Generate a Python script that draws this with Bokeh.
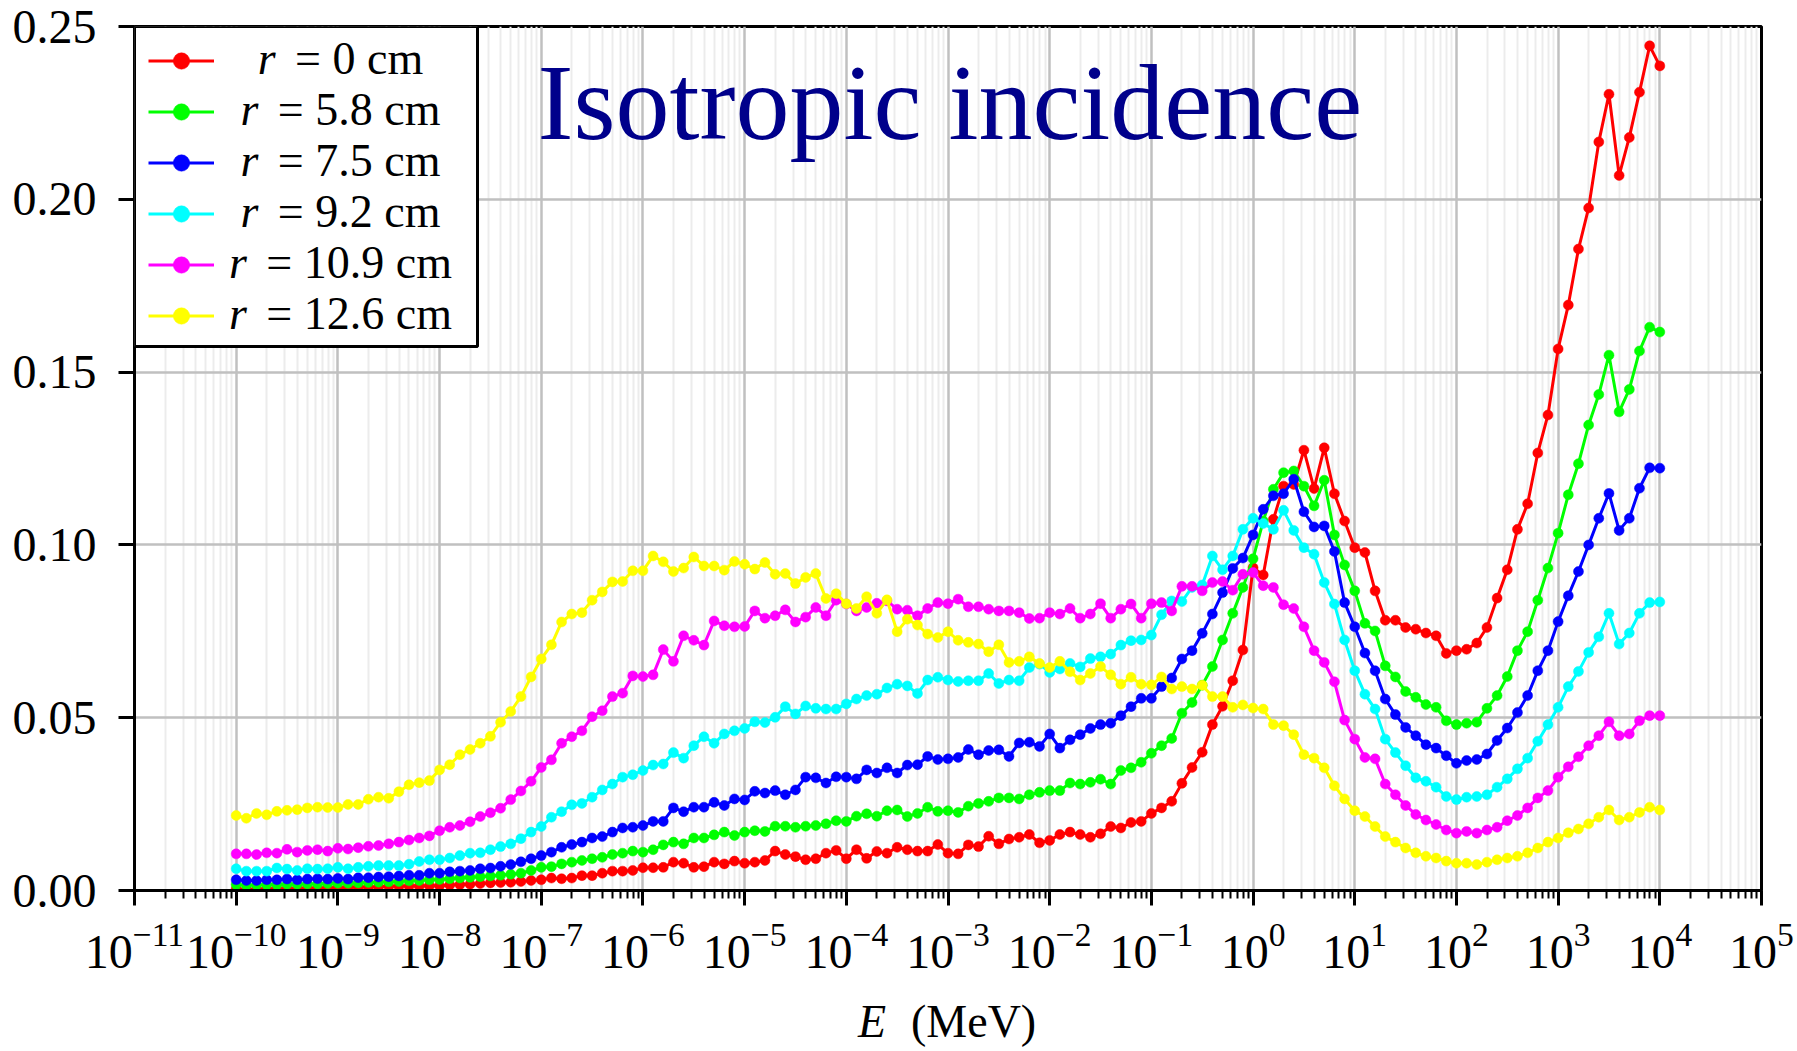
import numpy as np
from bokeh.plotting import figure
from bokeh.layouts import column
from bokeh.models import (ColumnDataSource, FixedTicker, LogTickFormatter, Legend,
                          LegendItem, Label, Range1d, BoxAnnotation)
from bokeh.embed import file_html
from bokeh.resources import INLINE

# ---------------- data ----------------
# energy grid: 10 points per decade from 1e-10 to 1e4 MeV
log_energy = np.round(np.arange(-100, 41) / 10.0, 1)
energy = 10.0 ** log_energy

r_0cm = [
    0.0004, 0.0003, 0.0004, 0.0005, 0.0005, 0.0006, 0.0006, 0.0007, 0.0007, 0.0008,
    0.0008, 0.0009, 0.0010, 0.0010, 0.0011, 0.0012, 0.0012, 0.0013, 0.0013, 0.0014,
    0.0014, 0.0016, 0.0017, 0.0018, 0.0020, 0.0022, 0.0023, 0.0024, 0.0026, 0.0029,
    0.0031, 0.0036, 0.0034, 0.0036, 0.0043, 0.0043, 0.0050, 0.0056, 0.0056, 0.0058,
    0.0066, 0.0066, 0.0067, 0.0082, 0.0079, 0.0067, 0.0069, 0.0082, 0.0077, 0.0085,
    0.0079, 0.0082, 0.0087, 0.0114, 0.0104, 0.0098, 0.0089, 0.0092, 0.0108, 0.0116,
    0.0092, 0.0118, 0.0093, 0.0113, 0.0108, 0.0125, 0.0118, 0.0114, 0.0114, 0.0133,
    0.0108, 0.0106, 0.0132, 0.0127, 0.0157, 0.0135, 0.0149, 0.0154, 0.0162, 0.0138,
    0.0145, 0.0162, 0.0169, 0.0162, 0.0154, 0.0164, 0.0185, 0.0181, 0.0197, 0.0200,
    0.0223, 0.0239, 0.0258, 0.0310, 0.0356, 0.0400, 0.0480, 0.0533, 0.0607, 0.0696,
    0.0934, 0.0913, 0.1074, 0.1170, 0.1175, 0.1274, 0.1163, 0.1281, 0.1148, 0.1069,
    0.0992, 0.0978, 0.0867, 0.0782, 0.0782, 0.0761, 0.0756, 0.0745, 0.0737, 0.0686,
    0.0694, 0.0698, 0.0716, 0.0761, 0.0846, 0.0928, 0.1045, 0.1119, 0.1266, 0.1376,
    0.1567, 0.1694, 0.1856, 0.1975, 0.2166, 0.2304, 0.2069, 0.2179, 0.2310, 0.2444,
    0.2386,
]

r_5_8cm = [
    0.0017, 0.0015, 0.0016, 0.0017, 0.0017, 0.0018, 0.0018, 0.0019, 0.0019, 0.0020,
    0.0021, 0.0021, 0.0022, 0.0023, 0.0024, 0.0025, 0.0026, 0.0028, 0.0029, 0.0031,
    0.0032, 0.0034, 0.0036, 0.0038, 0.0040, 0.0042, 0.0044, 0.0047, 0.0050, 0.0058,
    0.0067, 0.0069, 0.0077, 0.0082, 0.0087, 0.0092, 0.0096, 0.0104, 0.0108, 0.0114,
    0.0111, 0.0118, 0.0132, 0.0140, 0.0135, 0.0152, 0.0152, 0.0161, 0.0169, 0.0159,
    0.0169, 0.0173, 0.0171, 0.0186, 0.0186, 0.0183, 0.0186, 0.0188, 0.0193, 0.0202,
    0.0200, 0.0215, 0.0222, 0.0215, 0.0231, 0.0233, 0.0214, 0.0223, 0.0241, 0.0229,
    0.0231, 0.0226, 0.0244, 0.0252, 0.0258, 0.0268, 0.0268, 0.0265, 0.0277, 0.0284,
    0.0289, 0.0289, 0.0311, 0.0308, 0.0313, 0.0322, 0.0308, 0.0347, 0.0355, 0.0371,
    0.0397, 0.0419, 0.0440, 0.0513, 0.0544, 0.0594, 0.0648, 0.0725, 0.0802, 0.0877,
    0.0960, 0.1069, 0.1161, 0.1209, 0.1214, 0.1170, 0.1113, 0.1187, 0.1029, 0.0942,
    0.0867, 0.0773, 0.0751, 0.0650, 0.0618, 0.0576, 0.0559, 0.0538, 0.0530, 0.0491,
    0.0480, 0.0484, 0.0487, 0.0527, 0.0564, 0.0619, 0.0694, 0.0749, 0.0840, 0.0933,
    0.1034, 0.1145, 0.1235, 0.1347, 0.1435, 0.1549, 0.1385, 0.1450, 0.1561, 0.1630,
    0.1616,
]

r_7_5cm = [
    0.0031, 0.0029, 0.0029, 0.0031, 0.0031, 0.0033, 0.0031, 0.0033, 0.0034, 0.0033,
    0.0035, 0.0033, 0.0037, 0.0037, 0.0039, 0.0040, 0.0042, 0.0044, 0.0044, 0.0050,
    0.0050, 0.0054, 0.0056, 0.0058, 0.0063, 0.0065, 0.0070, 0.0075, 0.0083, 0.0092,
    0.0101, 0.0111, 0.0125, 0.0133, 0.0140, 0.0152, 0.0156, 0.0169, 0.0181, 0.0183,
    0.0188, 0.0200, 0.0200, 0.0239, 0.0228, 0.0241, 0.0241, 0.0255, 0.0246, 0.0265,
    0.0262, 0.0287, 0.0282, 0.0289, 0.0277, 0.0291, 0.0328, 0.0326, 0.0311, 0.0329,
    0.0328, 0.0323, 0.0349, 0.0340, 0.0355, 0.0340, 0.0363, 0.0364, 0.0388, 0.0379,
    0.0381, 0.0385, 0.0408, 0.0393, 0.0405, 0.0407, 0.0388, 0.0427, 0.0429, 0.0417,
    0.0453, 0.0412, 0.0436, 0.0451, 0.0469, 0.0480, 0.0484, 0.0506, 0.0532, 0.0556,
    0.0556, 0.0590, 0.0615, 0.0670, 0.0694, 0.0744, 0.0800, 0.0862, 0.0932, 0.0962,
    0.1029, 0.1103, 0.1142, 0.1148, 0.1190, 0.1096, 0.1052, 0.1055, 0.0981, 0.0833,
    0.0763, 0.0687, 0.0636, 0.0554, 0.0509, 0.0472, 0.0448, 0.0422, 0.0412, 0.0390,
    0.0368, 0.0376, 0.0379, 0.0395, 0.0434, 0.0470, 0.0515, 0.0564, 0.0636, 0.0694,
    0.0778, 0.0853, 0.0923, 0.1000, 0.1077, 0.1149, 0.1042, 0.1077, 0.1164, 0.1223,
    0.1222,
]

r_9_2cm = [
    0.0063, 0.0056, 0.0056, 0.0056, 0.0065, 0.0062, 0.0058, 0.0063, 0.0062, 0.0063,
    0.0067, 0.0063, 0.0067, 0.0070, 0.0072, 0.0072, 0.0072, 0.0076, 0.0084, 0.0089,
    0.0089, 0.0094, 0.0101, 0.0108, 0.0109, 0.0118, 0.0127, 0.0135, 0.0150, 0.0169,
    0.0185, 0.0212, 0.0228, 0.0248, 0.0252, 0.0270, 0.0291, 0.0308, 0.0328, 0.0335,
    0.0347, 0.0363, 0.0366, 0.0399, 0.0383, 0.0419, 0.0445, 0.0426, 0.0453, 0.0462,
    0.0469, 0.0488, 0.0486, 0.0501, 0.0532, 0.0511, 0.0534, 0.0527, 0.0525, 0.0525,
    0.0540, 0.0554, 0.0564, 0.0568, 0.0586, 0.0597, 0.0592, 0.0570, 0.0609, 0.0617,
    0.0609, 0.0605, 0.0607, 0.0607, 0.0628, 0.0599, 0.0609, 0.0607, 0.0645, 0.0655,
    0.0631, 0.0641, 0.0657, 0.0647, 0.0671, 0.0676, 0.0684, 0.0710, 0.0723, 0.0725,
    0.0739, 0.0798, 0.0838, 0.0836, 0.0877, 0.0884, 0.0968, 0.0928, 0.0968, 0.1045,
    0.1077, 0.1062, 0.1045, 0.1100, 0.1042, 0.0992, 0.0973, 0.0891, 0.0829, 0.0725,
    0.0636, 0.0568, 0.0525, 0.0438, 0.0399, 0.0361, 0.0326, 0.0316, 0.0299, 0.0272,
    0.0263, 0.0270, 0.0272, 0.0277, 0.0299, 0.0323, 0.0352, 0.0383, 0.0432, 0.0480,
    0.0530, 0.0590, 0.0634, 0.0689, 0.0734, 0.0802, 0.0713, 0.0745, 0.0802, 0.0833,
    0.0835,
]

r_10_9cm = [
    0.0106, 0.0106, 0.0104, 0.0109, 0.0108, 0.0119, 0.0111, 0.0116, 0.0118, 0.0114,
    0.0122, 0.0120, 0.0124, 0.0128, 0.0130, 0.0135, 0.0140, 0.0146, 0.0152, 0.0158,
    0.0173, 0.0183, 0.0188, 0.0199, 0.0214, 0.0225, 0.0238, 0.0263, 0.0288, 0.0316,
    0.0356, 0.0378, 0.0426, 0.0445, 0.0462, 0.0503, 0.0520, 0.0561, 0.0571, 0.0621,
    0.0619, 0.0624, 0.0697, 0.0663, 0.0737, 0.0724, 0.0710, 0.0780, 0.0766, 0.0763,
    0.0764, 0.0809, 0.0788, 0.0795, 0.0812, 0.0777, 0.0791, 0.0819, 0.0795, 0.0840,
    0.0829, 0.0809, 0.0819, 0.0831, 0.0838, 0.0814, 0.0811, 0.0795, 0.0816, 0.0833,
    0.0830, 0.0843, 0.0821, 0.0821, 0.0814, 0.0809, 0.0809, 0.0804, 0.0787, 0.0788,
    0.0804, 0.0800, 0.0816, 0.0788, 0.0800, 0.0830, 0.0788, 0.0814, 0.0829, 0.0788,
    0.0830, 0.0833, 0.0809, 0.0880, 0.0880, 0.0867, 0.0891, 0.0894, 0.0869, 0.0915,
    0.0920, 0.0882, 0.0877, 0.0827, 0.0816, 0.0763, 0.0694, 0.0660, 0.0604, 0.0493,
    0.0438, 0.0385, 0.0381, 0.0308, 0.0277, 0.0246, 0.0220, 0.0204, 0.0191, 0.0175,
    0.0166, 0.0171, 0.0166, 0.0175, 0.0183, 0.0202, 0.0217, 0.0239, 0.0268, 0.0289,
    0.0328, 0.0358, 0.0387, 0.0419, 0.0448, 0.0488, 0.0448, 0.0453, 0.0491, 0.0506,
    0.0506,
]

r_12_6cm = [
    0.0217, 0.0209, 0.0223, 0.0219, 0.0229, 0.0232, 0.0234, 0.0239, 0.0241, 0.0240,
    0.0240, 0.0249, 0.0249, 0.0264, 0.0270, 0.0267, 0.0286, 0.0306, 0.0312, 0.0318,
    0.0349, 0.0364, 0.0393, 0.0408, 0.0426, 0.0446, 0.0487, 0.0518, 0.0561, 0.0618,
    0.0670, 0.0711, 0.0777, 0.0800, 0.0804, 0.0840, 0.0864, 0.0893, 0.0894, 0.0925,
    0.0925, 0.0968, 0.0951, 0.0923, 0.0933, 0.0965, 0.0939, 0.0939, 0.0927, 0.0952,
    0.0944, 0.0930, 0.0949, 0.0915, 0.0917, 0.0888, 0.0906, 0.0917, 0.0845, 0.0859,
    0.0830, 0.0816, 0.0850, 0.0802, 0.0841, 0.0749, 0.0785, 0.0768, 0.0742, 0.0732,
    0.0749, 0.0724, 0.0718, 0.0713, 0.0691, 0.0711, 0.0660, 0.0663, 0.0676, 0.0657,
    0.0645, 0.0663, 0.0633, 0.0609, 0.0628, 0.0648, 0.0624, 0.0597, 0.0617, 0.0597,
    0.0595, 0.0618, 0.0583, 0.0590, 0.0583, 0.0594, 0.0561, 0.0561, 0.0530, 0.0537,
    0.0528, 0.0525, 0.0480, 0.0477, 0.0451, 0.0393, 0.0383, 0.0355, 0.0303, 0.0265,
    0.0231, 0.0214, 0.0185, 0.0156, 0.0140, 0.0123, 0.0109, 0.0099, 0.0094, 0.0085,
    0.0079, 0.0079, 0.0075, 0.0082, 0.0089, 0.0094, 0.0099, 0.0109, 0.0123, 0.0140,
    0.0152, 0.0167, 0.0178, 0.0193, 0.0212, 0.0233, 0.0204, 0.0212, 0.0226, 0.0241,
    0.0233,
]

series_values = [r_0cm, r_5_8cm, r_7_5cm, r_9_2cm, r_10_9cm, r_12_6cm]
series_radius = ["0", "5.8", "7.5", "9.2", "10.9", "12.6"]
series_colors = ["#ff0000", "#00ff00", "#0000ff", "#00ffff", "#ff00ff", "#ffff00"]

x_tick_exponents = list(range(-11, 6))
y_ticks = [0.0, 0.05, 0.10, 0.15, 0.20, 0.25]
y_tick_labels = ["0.00", "0.05", "0.10", "0.15", "0.20", "0.25"]

title_text = "Isotropic incidence"
x_label_var = "E"
x_label_unit = "(MeV)"

# ---------------- layout constants (pixels) ----------------
FONT = "Liberation Serif"
L, R, T = 134, 36, 26
FRAME_W, FRAME_H = 1627, 864
FRAME_BOTTOM = T + FRAME_H          # 890
B = 102                             # main figure ends at 992
H_XLAB = 1051 - (FRAME_BOTTOM + B)  # strip holding the x-axis title
BASELINE_SHIFT = 0.35               # svg drop of an "alphabetic" Label, in em

xmin_exp, xmax_exp = x_tick_exponents[0], x_tick_exponents[-1]
ymin, ymax = y_ticks[0], y_ticks[-1]


def px_x(px):
    """pixel column of the page -> data x (log axis)"""
    return 10.0 ** (xmin_exp + (px - L) / FRAME_W * (xmax_exp - xmin_exp))


def px_y(py):
    """pixel row of the page -> data y"""
    return ymin + (FRAME_BOTTOM - py) / FRAME_H * (ymax - ymin)


p = figure(frame_width=FRAME_W, frame_height=FRAME_H, x_axis_type="log",
           x_range=Range1d(10.0 ** xmin_exp, 10.0 ** xmax_exp),
           y_range=Range1d(ymin, ymax),
           output_backend="svg", toolbar_location=None,
           min_border_left=L, min_border_right=R, min_border_top=T, min_border_bottom=B)
p.background_fill_color = "white"
p.border_fill_color = "white"
p.outline_line_color = "black"
p.outline_line_width = 3
p.outline_line_alpha = 1.0

major_x = [10.0 ** k for k in x_tick_exponents]
minor_x = [m * 10.0 ** k for k in x_tick_exponents[:-1] for m in range(2, 10)]
xticker = FixedTicker(ticks=major_x, minor_ticks=minor_x)
p.xaxis.ticker = xticker
p.xgrid.ticker = xticker
p.xaxis.formatter = LogTickFormatter(min_exponent=0)

yticker = FixedTicker(ticks=y_ticks, minor_ticks=[])
p.yaxis.ticker = yticker
p.ygrid.ticker = yticker
p.yaxis.major_label_overrides = dict(zip(y_ticks, y_tick_labels))

p.xgrid.grid_line_color = "#c0c0c0"
p.xgrid.grid_line_width = 2.5
p.xgrid.minor_grid_line_color = "#ececec"
p.xgrid.minor_grid_line_width = 2
p.ygrid.grid_line_color = "#c0c0c0"
p.ygrid.grid_line_width = 2.5

for ax in (p.xaxis, p.yaxis):
    ax.axis_line_color = "black"
    ax.axis_line_width = 3
    ax.major_tick_in = 0
    ax.major_tick_line_color = "black"
    ax.major_tick_line_width = 3
    ax.minor_tick_in = 0
    ax.major_label_text_font = FONT
    ax.major_label_text_font_size = "48px"
    ax.major_label_text_color = "black"

p.xaxis.major_tick_out = 15
p.xaxis.minor_tick_out = 8
p.xaxis.minor_tick_line_width = 2
p.xaxis.minor_tick_line_color = "black"
p.xaxis.major_label_standoff = 18
p.yaxis.major_tick_out = 16
p.yaxis.minor_tick_line_color = None
p.yaxis.major_label_standoff = 22

# ---------------- legend box (drawn first, under the legend glyphs) ----------------
LEG_RIGHT, LEG_BOTTOM = 477, 346
p.add_layout(BoxAnnotation(left=10.0 ** xmin_exp, right=px_x(LEG_RIGHT),
                           top=ymax, bottom=px_y(LEG_BOTTOM),
                           fill_color="white", fill_alpha=1.0,
                           line_color="black", line_width=3, line_alpha=1.0))

# ---------------- series ----------------
source = ColumnDataSource(dict(energy=energy,
                               **{f"s{i}": v for i, v in enumerate(series_values)}))
items = []
for i, col in enumerate(series_colors):
    lr = p.line("energy", f"s{i}", source=source, line_color=col, line_width=3)
    sr = p.scatter("energy", f"s{i}", source=source, marker="circle", size=10,
                   fill_color=col, line_color=col, line_width=0.5)
    items.append(LegendItem(label=" ", renderers=[lr, sr]))

LEG_PAD, LEG_ROW, LEG_SP = 14, 41, 10
legend = Legend(items=items, location="top_left", margin=0, padding=LEG_PAD,
                spacing=LEG_SP, glyph_width=66, glyph_height=LEG_ROW,
                label_height=LEG_ROW, label_width=243, label_standoff=8,
                label_text_font_size="10px",
                border_line_alpha=0.0, background_fill_alpha=0.0)
p.add_layout(legend)

# legend texts (italic r + upright rest), centred in the legend's label area
LEG_FS = 46
adv = {"0": .5, "1": .5, "2": .5, "3": .5, "4": .5, "5": .5, "6": .5, "7": .5,
       "8": .5, "9": .5, ".": .25, " ": .25, "=": .564, "c": .444, "m": .778}
TEXT_CENTER = 340
for k, rad in enumerate(series_radius):
    rest = f"= {rad} cm"
    w_r = 0.389 * LEG_FS
    gap = 0.42 * LEG_FS
    w_rest = sum(adv[ch] for ch in rest) * LEG_FS
    start = TEXT_CENTER - (w_r + gap + w_rest) / 2
    row_center = T + LEG_PAD + LEG_ROW / 2 + k * (LEG_ROW + LEG_SP)
    baseline = row_center + 0.3 * LEG_FS
    y_text = px_y(baseline - BASELINE_SHIFT * LEG_FS)
    p.add_layout(Label(x=px_x(start), y=y_text, text="r", level="overlay",
                       text_font=FONT, text_font_style="italic",
                       text_font_size=f"{LEG_FS}px", text_baseline="alphabetic",
                       text_align="left", text_color="black"))
    p.add_layout(Label(x=px_x(start + w_r + gap), y=y_text, text=rest, level="overlay",
                       text_font=FONT, text_font_size=f"{LEG_FS}px",
                       text_baseline="alphabetic", text_align="left",
                       text_color="black"))

# in-plot title
TITLE_FS = 108
p.add_layout(Label(x=px_x(537), y=px_y(140 - BASELINE_SHIFT * TITLE_FS),
                   text=title_text, level="overlay", text_font=FONT,
                   text_font_size=f"{TITLE_FS}px", text_color="#00008b",
                   text_baseline="alphabetic", text_align="left"))

# ---------------- x-axis title strip ----------------
# same horizontal geometry as the main plot; data x == page pixel column
XL_FS = 46
q = figure(frame_width=FRAME_W, frame_height=H_XLAB,
           x_range=Range1d(L, L + FRAME_W), y_range=Range1d(0, H_XLAB),
           x_axis_location=None, y_axis_location=None,
           output_backend="svg", toolbar_location=None,
           min_border_left=L, min_border_right=R, min_border_top=0, min_border_bottom=0)
q.grid.visible = False
q.outline_line_color = None
q.background_fill_color = "white"
q.border_fill_color = "white"
strip_top = FRAME_BOTTOM + B
frame_center = L + FRAME_W / 2
y_xl = H_XLAB - (1037 - strip_top) + BASELINE_SHIFT * XL_FS
q.add_layout(Label(x=frame_center - 62, y=y_xl, text=x_label_var, text_font=FONT,
                   text_font_style="italic", text_font_size=f"{XL_FS}px",
                   text_align="right", text_baseline="alphabetic", text_color="black"))
q.add_layout(Label(x=frame_center - 37, y=y_xl, text=x_label_unit, text_font=FONT,
                   text_font_size=f"{XL_FS}px", text_align="left",
                   text_baseline="alphabetic", text_color="black"))

page = column(p, q, spacing=0)
open("out.html", "w").write(file_html(page, INLINE))
